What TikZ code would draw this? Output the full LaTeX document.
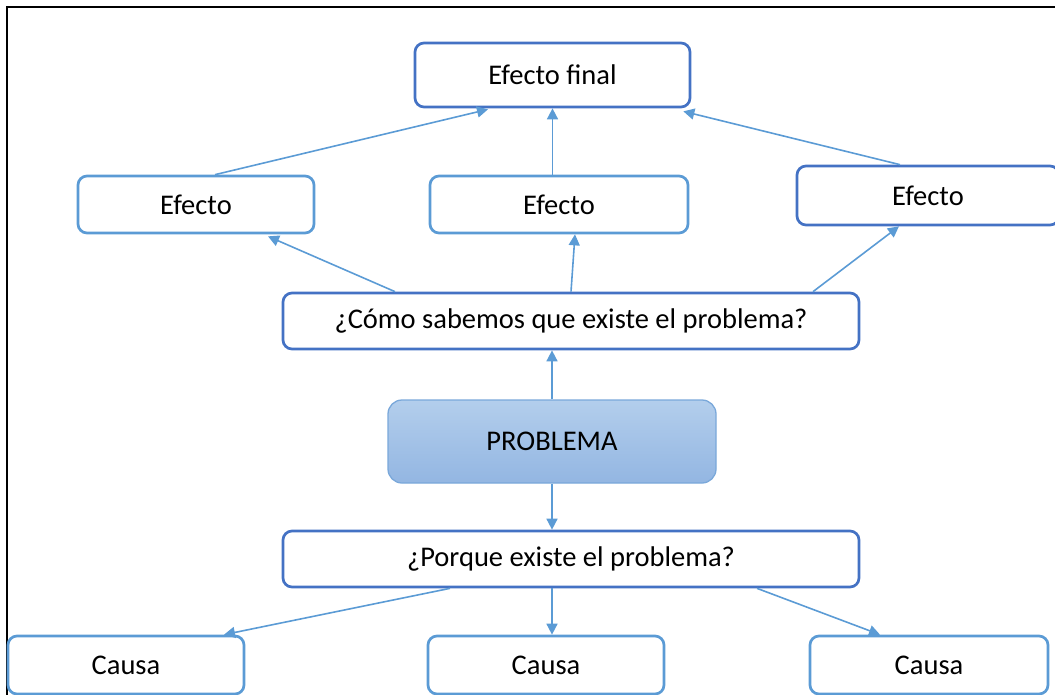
\documentclass[tikz,border=0pt]{standalone}
\usepackage{fontspec}
\setmainfont{Carlito}
\usetikzlibrary{arrows.meta}
\definecolor{darkb}{HTML}{4472C4}
\definecolor{lightb}{HTML}{5B9BD5}
\definecolor{ptop}{HTML}{B3CEEC}
\definecolor{pbot}{HTML}{93B6E2}
\definecolor{pbord}{HTML}{7AA8DA}
\tikzset{
  txt/.style={font=\fontsize{28.5}{32}\selectfont},
  boxd/.style={draw=darkb, line width=2.7pt, rounded corners=9pt, fill=white, inner sep=0pt, txt},
  boxl/.style={draw=lightb, line width=2.7pt, rounded corners=9pt, fill=white, inner sep=0pt, txt},
  probbox/.style={draw=pbord, line width=1.3pt, rounded corners=14pt, top color=ptop, bottom color=pbot, inner sep=0pt, txt},
  conn/.style={draw=lightb, line width=1.6pt, -{Triangle[length=11pt,width=11pt]}},
}
\begin{document}
\begin{tikzpicture}[x=1pt,y=-1pt]
\useasboundingbox (0,0) rectangle (1055,694);
\clip (0,0) rectangle (1055,694);
\draw[black, line width=2pt] (1060,7) -- (7,7) -- (7,700);
\node[boxd, minimum width=275pt, minimum height=64pt] (ef) at (552.5,75) {Efecto final};
\node[boxl, minimum width=236pt, minimum height=57pt] (e1) at (196,204.5) {Efecto};
\node[boxl, minimum width=258pt, minimum height=57pt] (e2) at (559,204.5) {Efecto};
\node[boxd, minimum width=262pt, minimum height=59pt] (e3) at (928,195.5) {Efecto};
\node[boxd, minimum width=576pt, minimum height=56pt] (como) at (571,321) {¿Cómo sabemos que existe el problema?};
\node[probbox, minimum width=328pt, minimum height=83pt] (prob) at (552,441.5) {PROBLEMA};
\node[boxd, minimum width=576pt, minimum height=56pt] (porq) at (571,559) {¿Porque existe el problema?};
\node[boxl, minimum width=236pt, minimum height=58pt] (c1) at (126,665) {Causa};
\node[boxl, minimum width=236pt, minimum height=58pt] (c2) at (546,665) {Causa};
\node[boxl, minimum width=238pt, minimum height=58pt] (c3) at (929,665) {Causa};
% effects to final
\draw[conn] ([xshift=19pt]e1.north) -- ([xshift=-64.5pt,yshift=-1pt]ef.south);
\draw[conn] (e2.north -| ef.south) -- (ef.south);
\draw[conn] ([xshift=-28pt]e3.north) -- ([xshift=-8pt,yshift=-3pt]ef.south east);
% como to effects
\draw[conn] ([xshift=-176pt]como.north) -- ([xshift=72pt,yshift=-2pt]e1.south);
\draw[conn] (como.north) -- ([xshift=16pt]e2.south);
\draw[conn] ([xshift=242pt]como.north) -- ([xshift=-29pt]e3.south);
% problem
\draw[conn] (prob.north) -- (prob.north |- como.south);
\draw[conn] (prob.south) -- (prob.south |- porq.north);
% causes
\draw[conn] ([xshift=-121pt]porq.south) -- ([xshift=98pt]c1.north);
\draw[conn] ([xshift=-19pt]porq.south) -- ([xshift=6pt]c2.north);
\draw[conn] ([xshift=186pt]porq.south) -- ([xshift=-49pt]c3.north);
\end{tikzpicture}
\end{document}
